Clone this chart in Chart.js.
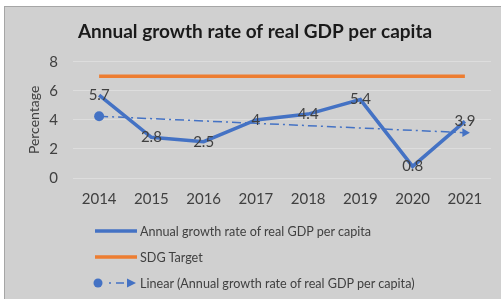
<!DOCTYPE html>
<html lang="en">
<head>
<meta charset="UTF-8">
<title>Annual growth rate of real GDP per capita</title>
<script src="https://cdn.jsdelivr.net/npm/chart.js@4.4.1/dist/chart.umd.min.js"></script>
<style>
  body { margin: 0; width: 501px; height: 299px; overflow: hidden; position: relative; background: #fff; font-family: Lato, sans-serif; }
  .frame { position: absolute; left: 4px; top: 6px; width: 520px; height: 320px; background: #d0d0d0; border: 1px solid #a6a6a6; }
  .chartBox { position: absolute; left: 0; top: 0; width: 501px; height: 220px; }
  .legend { position: absolute; left: 93px; top: 218px; }
  .legend .item { display: flex; align-items: center; height: 26px; font-size: 12.6px; color: #404040; }
  .legend svg { width: 46px; height: 12px; margin-right: 1px; }
</style>
</head>
<body>
  <div class="frame"></div>
  <div class="chartBox"><canvas id="gdpChart"></canvas></div>

  <!-- legend, stacked like the Excel one -->
  <div class="legend">
    <div class="item">
      <svg viewBox="0 0 46 12"><line x1="2" y1="6" x2="44" y2="6" stroke="#4472c4" stroke-width="3.5"/></svg>
      <span>Annual growth rate of real GDP per capita</span>
    </div>
    <div class="item">
      <svg viewBox="0 0 46 12"><line x1="2" y1="6" x2="44" y2="6" stroke="#ed7d31" stroke-width="3.5"/></svg>
      <span>SDG Target</span>
    </div>
    <div class="item">
      <svg viewBox="0 0 46 12">
        <circle cx="5" cy="6" r="4.5" fill="#4472c4"/>
        <line x1="16" y1="6" x2="18" y2="6" stroke="#4472c4" stroke-width="1.5"/>
        <line x1="23" y1="6" x2="31" y2="6" stroke="#4472c4" stroke-width="1.5"/>
        <polygon points="34,1.5 43,6 34,10.5" fill="#4472c4"/>
      </svg>
      <span>Linear (Annual growth rate of real GDP per capita)</span>
    </div>
  </div>

<script>
  // data
  var years = ["2014", "2015", "2016", "2017", "2018", "2019", "2020", "2021"];
  var growthRate = [5.7, 2.8, 2.5, 4, 4.4, 5.4, 0.8, 3.9];
  var sdgTarget = [7, 7, 7, 7, 7, 7, 7, 7];
  // excel linear trendline, only the two ends are shown
  var trendLine = [4.25, null, null, null, null, null, null, 3.12];
  var yTicks = [0, 2, 4, 6, 8];

  Chart.defaults.font.family = "Lato, sans-serif";
  Chart.defaults.color = "#404040";

  var blue = "#4472c4";
  var orange = "#ed7d31";

  // value labels sitting on the points
  var valueLabels = {
    id: "valueLabels",
    afterDatasetsDraw: function(chart) {
      var ctx = chart.ctx;
      var meta = chart.getDatasetMeta(0);
      ctx.save();
      ctx.font = "15px Lato, sans-serif";
      ctx.fillStyle = "#404040";
      ctx.textAlign = "center";
      ctx.textBaseline = "middle";
      meta.data.forEach(function(pt, i) {
        ctx.fillText(String(growthRate[i]), pt.x, pt.y);
      });
      ctx.restore();
    }
  };

  var trendStyles = trendLine.map(function(v, i) { return i === trendLine.length - 1 ? "triangle" : "circle"; });
  var trendRot = trendLine.map(function(v, i) { return i === trendLine.length - 1 ? 90 : 0; });
  var trendRadius = trendLine.map(function(v) { return v === null ? 0 : 5; });

  var ctx = document.getElementById("gdpChart").getContext("2d");
  var gdpChart = new Chart(ctx, {
    type: "line",
    data: {
      labels: years,
      datasets: [
        {
          label: "Annual growth rate of real GDP per capita",
          data: growthRate,
          borderColor: blue,
          backgroundColor: blue,
          borderWidth: 3.5,
          pointRadius: 0,
          fill: false,
          order: 1
        },
        {
          label: "SDG Target",
          data: sdgTarget,
          borderColor: orange,
          backgroundColor: orange,
          borderWidth: 3.5,
          pointRadius: 0,
          fill: false,
          order: 2
        },
        {
          label: "Linear (Annual growth rate of real GDP per capita)",
          data: trendLine,
          spanGaps: true,
          borderColor: blue,
          backgroundColor: blue,
          borderWidth: 1.5,
          borderDash: [9, 4, 2, 4],
          pointStyle: trendStyles,
          rotation: trendRot,
          pointRadius: trendRadius,
          pointBorderWidth: 0,
          fill: false,
          order: 3
        }
      ]
    },
    options: {
      responsive: true,
      maintainAspectRatio: false,
      animation: false,
      layout: { padding: { top: 20, right: 10, left: 19, bottom: 0 } },
      plugins: {
        legend: { display: false },
        tooltip: { enabled: false },
        title: {
          display: true,
          text: "Annual growth rate of real GDP per capita",
          color: "#1a1a1a",
          font: { size: 19, weight: "bold" },
          padding: { top: 0, bottom: 19 }
        }
      },
      scales: {
        x: {
          offset: true,
          grid: { display: false, drawTicks: false },
          border: { display: false },
          ticks: { font: { size: 15 }, padding: 12, maxRotation: 0 }
        },
        y: {
          min: 0,
          max: 8,
          afterBuildTicks: function(scale) {
            scale.ticks = yTicks.map(function(v) { return { value: v }; });
          },
          afterFit: function(scale) { scale.width = 54; },
          grid: { color: "#dddddd", lineWidth: 1, drawTicks: false },
          border: { display: false },
          ticks: { font: { size: 15 }, padding: 15 },
          title: {
            display: true,
            text: "Percentage",
            font: { size: 14 },
            padding: { top: 7, bottom: 0 }
          }
        }
      }
    },
    plugins: [valueLabels]
  });
</script>
</body>
</html>
